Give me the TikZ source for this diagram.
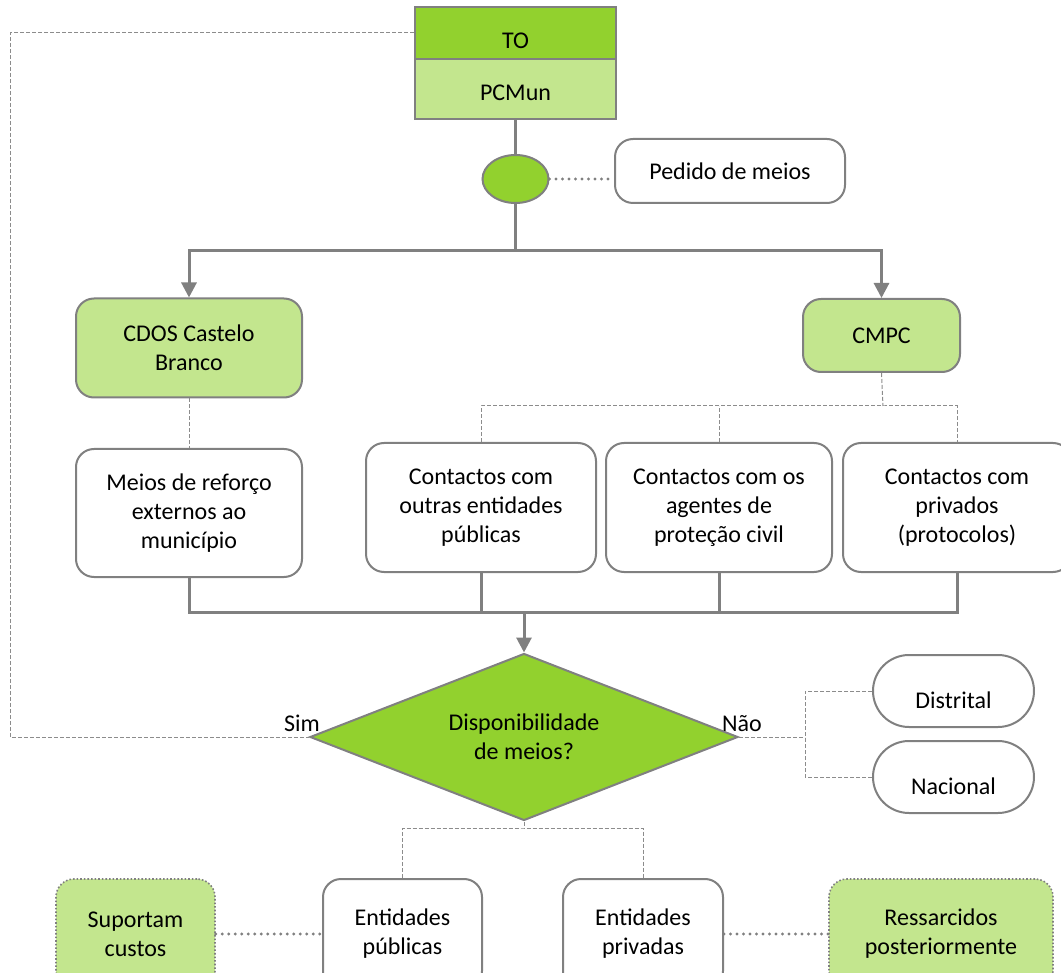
\documentclass[tikz,border=0pt]{standalone}
\usepackage{fontspec}
\setmainfont{Carlito}
\usetikzlibrary{shapes.geometric,arrows.meta}
\definecolor{gdark}{HTML}{92D12E}
\definecolor{glight}{HTML}{C3E68E}
\definecolor{lineg}{HTML}{808080}
\definecolor{thin}{HTML}{8C8C8C}
\tikzset{
  txt/.style={font=\fontsize{24}{29}\selectfont, align=center, text=black},
  boxbase/.style={txt, draw=lineg, line width=2pt, inner sep=2pt},
  rbox/.style={boxbase, rounded corners=18pt, fill=white},
  gbox/.style={rbox, fill=glight},
  dotbox/.style={txt, draw=lineg, line width=1.6pt, dotted, rounded corners=18pt, fill=glight, inner sep=2pt},
  pill/.style={boxbase, rounded corners=36pt, fill=white},
  conn/.style={draw=lineg, line width=3pt},
  arr/.style={conn, -{Triangle[width=15pt,length=15pt]}},
  dashlink/.style={draw=thin, line width=1pt, dash pattern=on 4pt off 2pt},
  dotlink/.style={draw=lineg, line width=3.2pt, line cap=round, dash pattern=on 0pt off 6.5pt},
}
\begin{document}
\begin{tikzpicture}[x=1pt,y=-1pt]
\useasboundingbox (0,0) rectangle (1061,973);
\clip (0,0) rectangle (1061,973);

% command post
\node[boxbase, fill=gdark, minimum width=201pt, minimum height=52pt, text height=31pt, text depth=0pt] (to) at (515.5,33) {TO};
\node[boxbase, fill=glight, minimum width=201pt, minimum height=60pt, text height=23pt, text depth=0pt] (pcm) at (515.5,89) {PCMun};

% request of means
\node[ellipse, draw=lineg, line width=2pt, fill=gdark, minimum width=66pt, minimum height=48pt, inner sep=0pt] (ell) at (515.5,179) {};
\node[rbox, minimum width=230pt, minimum height=64pt] (ped) at (730,171) {Pedido de meios};

% first level
\node[gbox, minimum width=226pt, minimum height=99pt] (cdos) at (189,348) {CDOS Castelo\\Branco};
\node[gbox, minimum width=157pt, minimum height=73pt] (cmpc) at (881.5,335.5) {CMPC};

% second level
\node[rbox, minimum width=226pt, minimum height=128pt] (meios) at (189,513) {Meios de reforço\\externos ao\\município};
\node[rbox, minimum width=230pt, minimum height=129pt] (c1) at (481,507.5) {Contactos com\\outras entidades\\públicas};
\node[rbox, minimum width=226pt, minimum height=129pt] (c2) at (719,507.5) {Contactos com os\\agentes de\\proteção civil};
\node[rbox, minimum width=228pt, minimum height=129pt] (c3) at (957,507.5) {Contactos com\\privados\\(protocolos)};

% decision
\node[diamond, shape aspect=2.56, draw=lineg, line width=2pt, fill=gdark, minimum width=428pt, minimum height=167pt, inner sep=0pt, txt] (dia) at (524,737) {Disponibilidade\\de meios?};
\node[txt, anchor=south] (sim) at (302,735) {Sim};
\node[txt, anchor=south] (nao) at (742,735) {Não};

% other levels
\node[pill, minimum width=161pt, minimum height=72pt, text height=35pt, text depth=0pt] (dist) at (953.5,691) {Distrital};
\node[pill, minimum width=161pt, minimum height=72pt, text height=35pt, text depth=0pt] (nac) at (953.5,777) {Nacional};

% entities
\node[rbox, minimum width=159pt, minimum height=110pt] (epub) at (402.5,934) {Entidades\\públicas};
\node[rbox, minimum width=160pt, minimum height=110pt] (epriv) at (643,934) {Entidades\\privadas};
\node[dotbox, minimum width=159pt, minimum height=110pt] (sup) at (135.5,934) {Suportam\\custos};
\node[dotbox, minimum width=224pt, minimum height=110pt] (res) at (941,934) {Ressarcidos\\posteriormente};

% junction points
\coordinate (tj) at (515.5,251);
\coordinate (cj) at (883,406);
\coordinate (mj) at (524,612);
\coordinate (lc) at (10,737);
\coordinate (nj) at (805,737);
\coordinate (bj) at (524,828);

% solid flow
\draw[conn] (pcm.south) -- (ell.north);
\draw[conn] (ell.south) -- (tj);
\draw[arr] (tj) -| (cdos.north);
\draw[arr] (tj) -| (cmpc.north);
\draw[conn] (meios.south) -- (meios.south |- mj) -- (c3.south |- mj) -- (c3.south);
\draw[conn] (c1.south) -- (c1.south |- mj);
\draw[conn] (c2.south) -- (c2.south |- mj);
\draw[arr] (mj) -- (dia.north);

% dotted links
\draw[dotlink] (ell.east) -- (ell.east -| ped.west);
\draw[dotlink] (sup.east) -- (epub.west);
\draw[dotlink] (epriv.east) -- (res.west);

% dashed links
\draw[dashlink] (cdos.south) -- (meios.north);
\draw[dashlink] (cmpc.south) -- (cj);
\draw[dashlink] (c1.north) |- (cj) -| (c3.north);
\draw[dashlink] (c2.north) -- (c2.north |- cj);
\draw[dashlink] (to.west) -| (lc) -- (dia.west);
\draw[dashlink] (dia.east) -- (nj);
\draw[dashlink] (dist.west) -| (nj);
\draw[dashlink] (nac.west) -| (nj);
\draw[dashlink] (dia.south) -- (bj);
\draw[dashlink] (epub.north) |- (bj) -| (epriv.north);
\end{tikzpicture}
\end{document}
